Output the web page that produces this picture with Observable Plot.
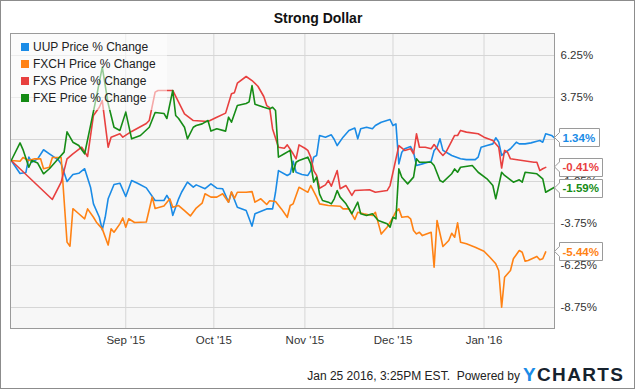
<!DOCTYPE html>
<html>
<head>
<meta charset="utf-8">
<script src="https://cdn.jsdelivr.net/npm/d3@7"></script>
<script src="https://cdn.jsdelivr.net/npm/@observablehq/plot@0.6"></script>
<style>
  html, body { margin: 0; padding: 0; background: #fff; }
  #wrap { position: relative; width: 635px; height: 389px; overflow: hidden; }
  #wrap svg { display: block; }
</style>
</head>
<body>
<div id="wrap"></div>
<script>
// ---------- data (percent change since 2015-07-24) ----------
const seriesNames = ["UUP Price % Change", "FXCH Price % Change", "FXS Price % Change", "FXE Price % Change"];
const seriesColors = ["#1a8be6", "#ff8214", "#e8403f", "#168c16"];
const chartTitle = "Strong Dollar";
const footerText = "Jan 25 2016, 3:25PM EST.  Powered by";

const uup = [["2015-07-24",0],["2015-07-27",-0.77],["2015-07-29",-0.71],["2015-07-30",0.20],["2015-07-31",-0.10],["2015-08-02",0.10],["2015-08-04",0.64],["2015-08-06",0.40],["2015-08-09",0.04],["2015-08-10",-0.20],["2015-08-12",-1.25],["2015-08-14",-0.83],["2015-08-16",-0.76],["2015-08-18",-0.49],["2015-08-20",-1.59],["2015-08-21",-2.58],["2015-08-23",-3.38],["2015-08-24",-4.13],["2015-08-25",-3.38],["2015-08-26",-2.28],["2015-08-28",-1.43],["2015-08-30",-1.35],["2015-09-01",-2.14],["2015-09-03",-1.19],["2015-09-05",-1.35],["2015-09-08",-1.63],["2015-09-11",-2.38],["2015-09-14",-2.38],["2015-09-15",-2.08],["2015-09-16",-2.38],["2015-09-17",-3.27],["2015-09-19",-2.28],["2015-09-20",-1.89],["2015-09-22",-1.29],["2015-09-24",-1.59],["2015-09-25",-1.45],["2015-09-28",-1.68],["2015-09-30",-1.39],["2015-10-02",-1.65],["2015-10-04",-1.68],["2015-10-06",-2.48],["2015-10-07",-1.89],["2015-10-09",-2.78],["2015-10-12",-2.98],["2015-10-14",-3.91],["2015-10-15",-3.17],["2015-10-19",-2.88],["2015-10-21",-2.88],["2015-10-22",-1.89],["2015-10-23",-0.60],["2015-10-26",-0.89],["2015-10-27",-0.79],["2015-10-28",-0.04],["2015-10-29",-0.70],["2015-10-31",-0.83],["2015-11-02",-0.89],["2015-11-03",-0.60],["2015-11-04",0.20],["2015-11-05",0.30],["2015-11-06",1.49],["2015-11-08",1.39],["2015-11-10",1.53],["2015-11-11",1.25],["2015-11-12",0.89],["2015-11-14",1.39],["2015-11-16",1.79],["2015-11-18",1.93],["2015-11-19",1.29],["2015-11-20",1.89],["2015-11-22",1.98],["2015-11-24",1.89],["2015-11-25",2.08],["2015-11-27",2.28],["2015-11-30",2.44],["2015-12-01",2.08],["2015-12-02",2.18],["2015-12-03",-0.20],["2015-12-04",0.49],["2015-12-05",0.70],["2015-12-07",0.83],["2015-12-08",0.49],["2015-12-09",-0.30],["2015-12-11",-0.20],["2015-12-14",-0.05],["2015-12-15",0.60],["2015-12-16",0.79],["2015-12-17",1.29],["2015-12-18",0.60],["2015-12-20",0.40],["2015-12-21",0.30],["2015-12-24",0.10],["2015-12-26",0.05],["2015-12-29",0.05],["2015-12-30",0.20],["2015-12-31",0.79],["2016-01-02",0.89],["2016-01-04",0.99],["2016-01-05",1.35],["2016-01-06",1.10],["2016-01-07",0.30],["2016-01-08",0.45],["2016-01-10",0.70],["2016-01-11",0.89],["2016-01-12",1.09],["2016-01-13",0.99],["2016-01-15",0.99],["2016-01-17",1.05],["2016-01-19",1.15],["2016-01-20",1.19],["2016-01-21",1.09],["2016-01-22",1.59],["2016-01-24",1.49],["2016-01-25",1.34]];

const fxch = [["2015-07-24",0],["2015-07-27",-0.04],["2015-07-28",0.18],["2015-07-30",0],["2015-08-01",0.10],["2015-08-03",0.10],["2015-08-04",-0.49],["2015-08-06",-0.40],["2015-08-07",0.18],["2015-08-10",0.18],["2015-08-12",-4.86],["2015-08-13",-5.10],["2015-08-14",-2.87],["2015-08-16",-3.17],["2015-08-18",-3.47],["2015-08-19",-2.88],["2015-08-21",-3.38],["2015-08-22",-3.67],["2015-08-24",-4.07],["2015-08-26",-5.03],["2015-08-27",-4.07],["2015-08-28",-4.27],["2015-08-30",-3.77],["2015-08-31",-3.42],["2015-09-01",-3.97],["2015-09-02",-3.47],["2015-09-04",-3.69],["2015-09-08",-3.66],["2015-09-10",-2.17],["2015-09-11",-2.86],["2015-09-14",-2.71],["2015-09-16",-2.28],["2015-09-17",-2.78],["2015-09-19",-2.68],["2015-09-21",-2.98],["2015-09-23",-3.30],["2015-09-25",-2.83],["2015-09-27",-2.54],["2015-09-28",-1.98],["2015-09-30",-2.18],["2015-10-02",-2.18],["2015-10-04",-1.98],["2015-10-06",-2.48],["2015-10-07",-1.86],["2015-10-08",-2.25],["2015-10-09",-1.89],["2015-10-12",-1.89],["2015-10-14",-1.85],["2015-10-15",-2.48],["2015-10-17",-2.28],["2015-10-19",-2.62],["2015-10-20",-2.40],["2015-10-22",-2.44],["2015-10-24",-2.88],["2015-10-26",-3.38],["2015-10-27",-2.68],["2015-10-28",-2.58],["2015-10-30",-1.59],["2015-11-01",-1.79],["2015-11-02",-1.89],["2015-11-03",-1.49],["2015-11-05",-2.18],["2015-11-06",-2.58],["2015-11-09",-2.68],["2015-11-13",-2.72],["2015-11-14",-2.88],["2015-11-16",-2.88],["2015-11-18",-3.51],["2015-11-19",-3.08],["2015-11-21",-3.17],["2015-11-24",-3.27],["2015-11-25",-3.08],["2015-11-27",-4.38],["2015-11-29",-3.97],["2015-12-01",-3.38],["2015-12-02",-3.04],["2015-12-03",-2.88],["2015-12-04",-3.38],["2015-12-06",-3.33],["2015-12-07",-3.47],["2015-12-08",-4.17],["2015-12-09",-4.37],["2015-12-10",-4.27],["2015-12-11",-4.47],["2015-12-14",-4.27],["2015-12-15",-6.35],["2015-12-16",-3.57],["2015-12-18",-5.12],["2015-12-20",-4.76],["2015-12-21",-4.33],["2015-12-22",-4.57],["2015-12-23",-3.71],["2015-12-24",-4.86],["2015-12-26",-4.96],["2015-12-29",-5.16],["2016-01-01",-5.40],["2016-01-03",-5.76],["2016-01-05",-6.15],["2016-01-06",-6.55],["2016-01-07",-8.73],["2016-01-08",-6.95],["2016-01-10",-6.55],["2016-01-11",-5.85],["2016-01-13",-5.36],["2016-01-14",-5.46],["2016-01-15",-5.99],["2016-01-16",-5.95],["2016-01-19",-5.71],["2016-01-20",-5.91],["2016-01-21",-5.85],["2016-01-22",-5.44]];

const fxs = [["2015-07-24",0],["2015-08-07",-2.32],["2015-08-10",-1.29],["2015-08-12",0.10],["2015-08-14",0.40],["2015-08-17",0.79],["2015-08-19",0.24],["2015-08-21",2.68],["2015-08-23",3.17],["2015-08-24",3.57],["2015-08-26",0.79],["2015-08-27",1.39],["2015-08-30",1.59],["2015-08-31",1.39],["2015-09-03",1.73],["2015-09-08",2.20],["2015-09-09",2.38],["2015-09-11",4.07],["2015-09-12",4.17],["2015-09-17",4.17],["2015-09-21",2.78],["2015-09-24",2.38],["2015-09-29",2.32],["2015-10-02",2.58],["2015-10-05",2.82],["2015-10-07",3.97],["2015-10-08",4.04],["2015-10-09",4.60],["2015-10-12",5.00],["2015-10-14",4.76],["2015-10-16",4.42],["2015-10-18",3.81],["2015-10-19",3.27],["2015-10-20",3.15],["2015-10-21",1.88],["2015-10-23",0.79],["2015-10-25",0.73],["2015-10-26",0.93],["2015-10-28",0.40],["2015-10-29",0.10],["2015-10-30",0.93],["2015-11-01",0.73],["2015-11-02",0.60],["2015-11-03",0.20],["2015-11-04",-0.60],["2015-11-05",-0.89],["2015-11-06",-1.65],["2015-11-08",-1.45],["2015-11-09",-1.19],["2015-11-10",-1.53],["2015-11-12",-0.60],["2015-11-13",-1.68],["2015-11-15",-1.49],["2015-11-17",-2.08],["2015-11-18",-1.79],["2015-11-23",-1.74],["2015-11-25",-1.89],["2015-11-29",-1.79],["2015-11-30",-1.49],["2015-12-01",-0.70],["2015-12-03",0.89],["2015-12-05",0.60],["2015-12-07",0.70],["2015-12-08",0.40],["2015-12-09",1.59],["2015-12-10",0.79],["2015-12-12",0.79],["2015-12-14",0.70],["2015-12-15",0.95],["2015-12-17",0.49],["2015-12-18",0.30],["2015-12-19",0.49],["2015-12-22",1.49],["2015-12-23",1.49],["2015-12-24",1.79],["2015-12-26",1.69],["2015-12-30",1.59],["2016-01-01",1.39],["2016-01-04",1.19],["2016-01-06",0.79],["2016-01-07",-0.45],["2016-01-08",0.60],["2016-01-09",0.49],["2016-01-10",0.10],["2016-01-14",0.00],["2016-01-18",-0.10],["2016-01-19",-0.10],["2016-01-20",-0.60],["2016-01-21",-0.49],["2016-01-22",-0.41]];

const fxe = [["2015-07-24",0],["2015-07-27",1.05],["2015-07-28",0.65],["2015-07-30",-0.40],["2015-07-31",0.00],["2015-08-02",-0.15],["2015-08-04",-0.79],["2015-08-06",-0.49],["2015-08-09",0.10],["2015-08-11",0.50],["2015-08-12",1.71],["2015-08-14",1.09],["2015-08-16",0.89],["2015-08-18",0.40],["2015-08-20",2.08],["2015-08-22",3.77],["2015-08-24",5.56],["2015-08-26",3.39],["2015-08-28",1.98],["2015-08-30",1.79],["2015-09-01",2.88],["2015-09-03",1.29],["2015-09-06",1.49],["2015-09-09",1.98],["2015-09-11",2.86],["2015-09-14",2.80],["2015-09-15",2.50],["2015-09-17",4.17],["2015-09-18",2.68],["2015-09-19",2.50],["2015-09-21",1.98],["2015-09-22",1.29],["2015-09-24",1.98],["2015-09-25",2.08],["2015-09-27",2.18],["2015-09-29",2.38],["2015-09-30",1.75],["2015-10-02",1.89],["2015-10-05",1.75],["2015-10-06",2.58],["2015-10-07",2.28],["2015-10-09",3.27],["2015-10-12",3.39],["2015-10-13",3.49],["2015-10-14",4.46],["2015-10-15",3.35],["2015-10-18",3.17],["2015-10-20",3.07],["2015-10-21",3.17],["2015-10-22",2.98],["2015-10-23",0.20],["2015-10-25",0.40],["2015-10-27",0.60],["2015-10-28",-0.70],["2015-10-29",-0.10],["2015-10-30",0.00],["2015-11-02",0.20],["2015-11-03",-0.20],["2015-11-04",-1.29],["2015-11-05",-0.99],["2015-11-06",-2.00],["2015-11-07",-2.38],["2015-11-09",-2.48],["2015-11-10",-2.58],["2015-11-11",-2.28],["2015-11-12",-1.79],["2015-11-13",-2.18],["2015-11-15",-2.58],["2015-11-17",-3.17],["2015-11-19",-2.48],["2015-11-20",-3.17],["2015-11-22",-3.27],["2015-11-24",-3.17],["2015-11-26",-3.57],["2015-11-29",-3.77],["2015-11-30",-3.97],["2015-12-01",-3.38],["2015-12-02",-3.47],["2015-12-03",-0.50],["2015-12-04",-1.00],["2015-12-06",-1.39],["2015-12-08",-0.99],["2015-12-09",0.10],["2015-12-10",-0.10],["2015-12-14",-0.10],["2015-12-15",-0.30],["2015-12-17",-1.19],["2015-12-18",-1.29],["2015-12-21",-0.79],["2015-12-22",-0.50],["2015-12-23",-0.70],["2015-12-24",-0.40],["2015-12-28",-0.30],["2015-12-30",-0.70],["2016-01-02",-1.09],["2016-01-04",-1.49],["2016-01-05",-2.28],["2016-01-07",-0.70],["2016-01-08",-0.89],["2016-01-11",-1.29],["2016-01-13",-1.15],["2016-01-14",-1.29],["2016-01-15",-0.70],["2016-01-19",-0.79],["2016-01-21",-1.09],["2016-01-22",-1.89],["2016-01-25",-1.59]];

const yTicks = [6.25, 3.75, 1.25, -1.25, -3.75, -6.25, -8.75];
const xTickDates = ["2015-09-01", "2015-10-01", "2015-11-01", "2015-12-01", "2016-01-01"];
const xTickLabels = ["Sep '15", "Oct '15", "Nov '15", "Dec '15", "Jan '16"];
const xDomain = ["2015-07-23T18:00Z", "2016-01-25T00:00Z"];
const yDomain = [-10.0, 7.56];

// ---------- build ----------
(function () {
const allSeries = [uup, fxch, fxs, fxe];
const font = "'Liberation Sans', Arial, Helvetica, sans-serif";
const tickDates = xTickDates.map(s => new Date(s));

const lineMarks = allSeries.map((s, i) =>
  Plot.line(s, {x: d => new Date(d[0]), y: d => d[1], stroke: seriesColors[i], strokeWidth: 1.6, curve: "linear"})
);

const plot = Plot.plot({
  width: 635,
  height: 389,
  marginLeft: 10,
  marginRight: 81,
  marginTop: 33,
  marginBottom: 61,
  style: {fontFamily: font, fontSize: "11.5px", color: "#333", background: "#fff", overflow: "visible"},
  x: {type: "utc", domain: xDomain.map(s => new Date(s))},
  y: {domain: yDomain},
  marks: [
    Plot.frame({fill: "#f7f7f7", stroke: null}),
    Plot.gridX(tickDates, {stroke: "#d6d6d6", strokeOpacity: 1}),
    Plot.gridY(yTicks, {stroke: "#d6d6d6", strokeOpacity: 1}),
    Plot.axisX(tickDates, {tickSize: 0, tickPadding: 7, fill: "#333", fontSize: 11.5,
      tickFormat: d => xTickLabels[tickDates.findIndex(t => +t === +d)]}),
    Plot.axisY(yTicks, {anchor: "right", tickSize: 0, tickPadding: 6, fill: "#333", fontSize: 11.5,
      tickFormat: d => d.toFixed(2) + "%"}),
    ...lineMarks,
    Plot.frame({stroke: "#9a9a9a", strokeWidth: 1})
  ]
});

document.getElementById("wrap").appendChild(plot);

const svg = d3.select(plot);
const xS = plot.scale("x");
const yS = plot.scale("y");
const plotLeft = Math.min(...xS.range), plotRight = Math.max(...xS.range);
const plotTop = Math.min(...yS.range);

const extra = svg.append("g").attr("text-anchor", "start").attr("font-family", font);

// title
extra.append("text")
  .attr("x", 318).attr("y", 22.5)
  .attr("text-anchor", "middle")
  .attr("font-weight", "bold").attr("font-size", 14)
  .attr("fill", "#111")
  .text(chartTitle);

// legend
const lg = extra.append("g");
lg.append("rect").attr("x", plotLeft + 1).attr("y", plotTop + 1).attr("width", 156).attr("height", 76)
  .attr("fill", "#fff").attr("fill-opacity", 0.55);
seriesNames.forEach((name, i) => {
  const cy = plotTop + 14 + i * 17;
  lg.append("rect").attr("x", plotLeft + 11).attr("y", cy - 4).attr("width", 8).attr("height", 8)
    .attr("fill", seriesColors[i]);
  lg.append("text").attr("x", plotLeft + 23).attr("y", cy).attr("dy", "0.36em")
    .attr("text-anchor", "start")
    .attr("font-size", 12).attr("fill", "#222")
    .text(name);
});

// end-value flags
const flags = allSeries.map((s, i) => ({v: s[s.length - 1][1], color: seriesColors[i]}))
  .sort((a, b) => b.v - a.v);
let prev = -Infinity;
flags.forEach(f => {
  f.tip = yS.apply(f.v);
  f.cy = Math.max(f.tip, prev + 21);
  prev = f.cy;
});
flags.forEach(f => {
  const g = extra.append("g");
  const bx = plotRight + 5;
  const path = g.append("path").attr("fill", "#fff").attr("stroke", "#9a9a9a").attr("stroke-width", 1);
  const t = g.append("text").attr("x", bx + 3.5).attr("y", f.cy).attr("dy", "0.36em")
    .attr("text-anchor", "start")
    .attr("font-size", 11.5).attr("font-weight", "bold")
    .attr("fill", f.color)
    .text(f.v.toFixed(2) + "%");
  const w = t.node().getComputedTextLength() + 7;
  const h = 18;
  const y0 = Math.round(f.cy - h / 2) + 0.5, y1 = y0 + h;
  const x0 = bx + 0.5, x1 = Math.round(bx + w) + 0.5;
  path.attr("d", `M${plotRight + 0.5},${f.cy} L${x0},${f.cy - 5} L${x0},${y0} L${x1},${y0} L${x1},${y1} L${x0},${y1} L${x0},${f.cy + 5} Z`);
});

// footer
extra.append("text")
  .attr("x", 520).attr("y", 380)
  .attr("text-anchor", "end")
  .attr("font-size", 12).attr("fill", "#222")
  .style("white-space", "pre")
  .text(footerText);
const logo = extra.append("text")
  .attr("x", 523).attr("y", 380.5)
  .attr("text-anchor", "start")
  .attr("font-size", 19).attr("font-weight", "bold")
  .attr("textLength", 100).attr("lengthAdjust", "spacing");
logo.append("tspan").attr("fill", "#1a8be6").text("Y");
logo.append("tspan").attr("fill", "#16222e").text("CHARTS");

// outer border
extra.append("rect").attr("x", 0.5).attr("y", 0.5).attr("width", 634).attr("height", 388)
  .attr("fill", "none").attr("stroke", "#8c8c8c");
})();
</script>
</body>
</html>
